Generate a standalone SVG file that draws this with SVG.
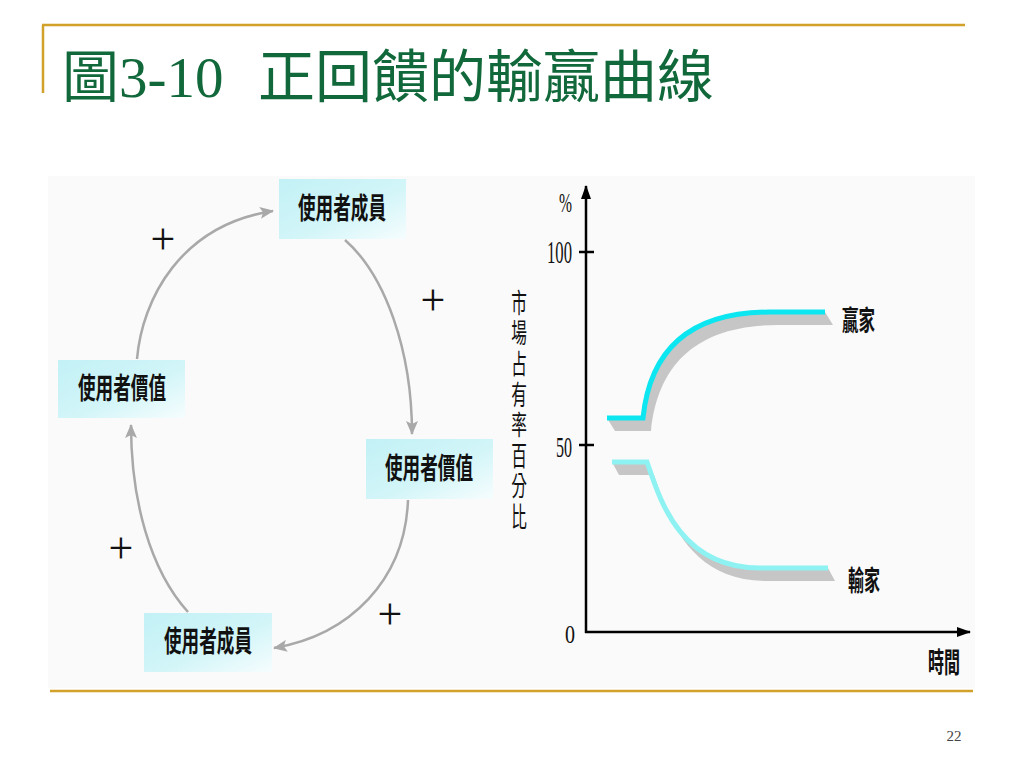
<svg xmlns="http://www.w3.org/2000/svg" width="1024" height="768" viewBox="0 0 1024 768">
  <defs>
    <linearGradient id="boxGrad" x1="0" y1="0" x2="1" y2="1">
      <stop offset="0" stop-color="#c2f1f6"/>
      <stop offset="0.55" stop-color="#d2f5f8"/>
      <stop offset="1" stop-color="#f6fdfe"/>
    </linearGradient>
    <marker id="grayArrow" markerUnits="userSpaceOnUse" markerWidth="14" markerHeight="12" refX="13" refY="6" orient="auto">
      <path d="M0,0 L14,6 L0,12 L3,6 Z" fill="#a9a9a9"/>
    </marker>
    <marker id="axisArrow" markerUnits="userSpaceOnUse" markerWidth="14" markerHeight="10" refX="13" refY="5" orient="auto">
      <path d="M0,0 L14,5 L0,10 Z" fill="#000"/>
    </marker>
  </defs>
  <style>
    .gold { stroke: #d2a12a; stroke-width: 2.5; fill: none; }
    .title { font-family: "Liberation Serif", "Noto Sans CJK TC", serif; font-size: 57px; fill: #11683a; }
    .box { fill: url(#boxGrad); }
    .boxText { font-family: "Noto Sans CJK TC", "Noto Sans", sans-serif; font-size: 29px; font-weight: 700; fill: #111; }
    .conn { fill: none; stroke: #a9a9a9; stroke-width: 2.5; marker-end: url(#grayArrow); }
    .plus { font-family: "Liberation Serif", serif; font-size: 44px; fill: #111; text-anchor: middle; }
    .axis { stroke: #000; stroke-width: 2.5; fill: none; }
    .num { font-family: "Liberation Serif", serif; fill: #111; text-anchor: end; }
    .lab { font-family: "Noto Sans CJK TC", "Noto Sans", sans-serif; font-size: 28px; font-weight: 700; fill: #111; }
    .vlab { font-family: "Noto Sans CJK TC", "Noto Sans", sans-serif; font-size: 27px; fill: #111; writing-mode: vertical-rl; letter-spacing: 3.6px; }
    .shadow { fill: #c6c6c6; }
  </style>

  <rect x="0" y="0" width="1024" height="768" fill="#ffffff"/>

  <g id="frame">
    <line class="gold" x1="42" y1="25" x2="965" y2="25"/>
    <line class="gold" x1="43" y1="25" x2="43" y2="93"/>
    <line class="gold" x1="50" y1="691" x2="973" y2="691"/>
  </g>

  <text id="title" class="title" x="62" y="97">圖3-10<tspan x="258">正回饋的輸贏曲線</tspan></text>

  <rect x="48" y="176" width="927" height="512" fill="#fafafa"/>

  <g id="connectors">
    <path class="conn" d="M137,359 C142,300 180,225 273,211"/>
    <path class="conn" d="M345,240 C385,275 412,350 412,434"/>
    <path class="conn" d="M408,500 C405,580 350,635 274,648"/>
    <path class="conn" d="M188,612 C150,570 131,500 131,425"/>
  </g>

  <g id="plus-signs">
    <text class="plus" x="163" y="254">+</text>
    <text class="plus" x="433" y="315">+</text>
    <text class="plus" x="121" y="563">+</text>
    <text class="plus" x="390" y="629">+</text>
  </g>

  <g id="node-members-top">
    <rect class="box" x="279" y="179" width="127" height="60"/>
    <text class="boxText" x="298" y="219" textLength="88" lengthAdjust="spacingAndGlyphs">使用者成員</text>
  </g>
  <g id="node-value-left">
    <rect class="box" x="58" y="360" width="127" height="58"/>
    <text class="boxText" x="78" y="399" textLength="88" lengthAdjust="spacingAndGlyphs">使用者價值</text>
  </g>
  <g id="node-value-right">
    <rect class="box" x="366" y="439" width="127" height="60"/>
    <text class="boxText" x="385" y="479" textLength="88" lengthAdjust="spacingAndGlyphs">使用者價值</text>
  </g>
  <g id="node-members-bottom">
    <rect class="box" x="144" y="613" width="128" height="59"/>
    <text class="boxText" x="164" y="652" textLength="88" lengthAdjust="spacingAndGlyphs">使用者成員</text>
  </g>

  <g id="chart">
    <line class="axis" x1="586" y1="633" x2="586" y2="186" marker-end="url(#axisArrow)"/>
    <line class="axis" x1="585" y1="632" x2="970" y2="632" marker-end="url(#axisArrow)"/>
    <line class="axis" x1="579" y1="252" x2="594" y2="252"/>
    <line class="axis" x1="579" y1="445" x2="594" y2="445"/>

    <text class="num" x="572" y="212" font-size="28" textLength="13" lengthAdjust="spacingAndGlyphs">%</text>
    <text class="num" x="572" y="263" font-size="31" textLength="25" lengthAdjust="spacingAndGlyphs">100</text>
    <text class="num" x="572" y="457" font-size="29" textLength="16" lengthAdjust="spacingAndGlyphs">50</text>
    <text class="num" x="575" y="643" font-size="25" textLength="10" lengthAdjust="spacingAndGlyphs">0</text>

    <g transform="translate(519,0) scale(0.58,1)">
      <text class="vlab" x="0" y="289">市場占有率百分比</text>
    </g>

    <g id="winner-curve">
      <path class="shadow" d="M607,418 H643 C650,350 690,312 770,312 H825 L833,325 H778 C698,325 658,363 651,431 H615 Z"/>
      <path d="M607,418 H643 C650,350 690,312 770,312 H825" fill="none" stroke="#0ce6f0" stroke-width="5"/>
    </g>
    <g id="loser-curve">
      <path class="shadow" d="M612,462 H647 C660,500 680,568 760,568 H828 L835,581 H767 C687,581 667,513 654,475 H619 Z"/>
      <path d="M612,462 H647 C660,500 680,568 760,568 H828" fill="none" stroke="#8ef2f2" stroke-width="5"/>
    </g>

    <text class="lab" x="842" y="331" textLength="33" lengthAdjust="spacingAndGlyphs">贏家</text>
    <text class="lab" x="848" y="591" textLength="32" lengthAdjust="spacingAndGlyphs">輸家</text>
    <text class="lab" x="928" y="673" textLength="32" lengthAdjust="spacingAndGlyphs">時間</text>
  </g>

  <text id="page-number" x="954" y="741" font-family="Liberation Serif, serif" font-size="15" fill="#444" text-anchor="middle">22</text>
</svg>
